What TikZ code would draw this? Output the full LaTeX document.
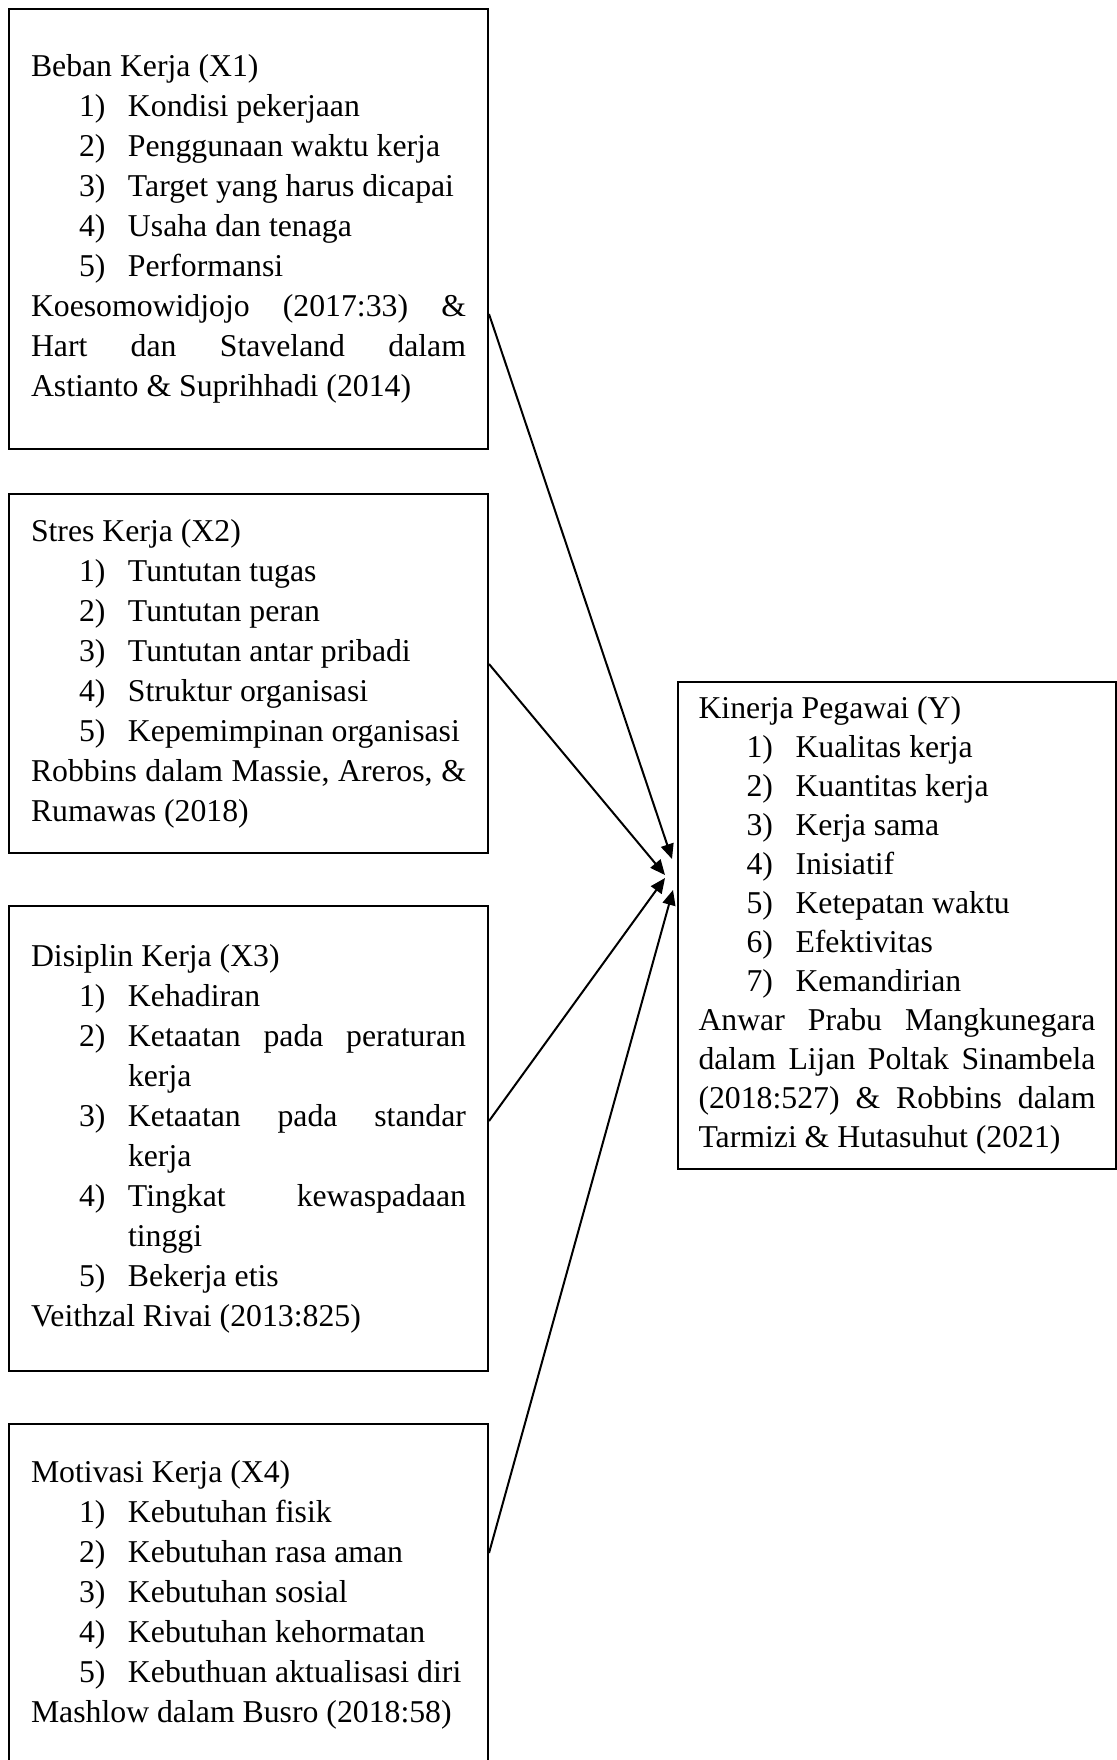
\documentclass[tikz,border=0pt]{standalone}
\usepackage{fontspec}
\setmainfont{Liberation Serif}
\usetikzlibrary{arrows.meta}
\setlength{\parindent}{0pt}
\setlength{\parskip}{0pt}
\hyphenpenalty=10000
\exhyphenpenalty=10000
% numbered indicator line with hanging indent
\newcommand{\itm}[2]{\par\noindent\hangindent=38.8pt\hangafter=1\hspace*{19.2pt}\makebox[19.6pt][l]{#1)}#2\par}
\tikzset{
  varbox/.style={draw, line width=0.8pt, anchor=north west, minimum width=191.6pt,
                 text width=174pt, align=justify, inner xsep=0pt, inner ysep=0pt,
                 font=\fontsize{12.7pt}{16pt}\selectfont},
  ybox/.style={varbox, minimum width=175.2pt, text width=158.8pt,
               font=\fontsize{12.7pt}{15.6pt}\selectfont},
  infl/.style={-{Triangle[length=6pt,width=5.2pt]}, line width=0.8pt}
}

\begin{document}
\begin{tikzpicture}[x=0.4pt, y=-0.4pt]
\useasboundingbox (0,0) rectangle (1117,1760);
\clip (0,0) rectangle (1117,1760);
% independent variables
\node[varbox, minimum height=176pt] (bk) at (8,8) {Beban Kerja (X1)
  \itm{1}{Kondisi pekerjaan}
  \itm{2}{Penggunaan waktu kerja}
  \itm{3}{Target yang harus dicapai}
  \itm{4}{Usaha dan tenaga}
  \itm{5}{Performansi}
  Koesomowidjojo (2017:33) \&\linebreak Hart dan Staveland dalam\linebreak Astianto \& Suprihhadi (2014)};
\node[varbox, minimum height=143.6pt] (sk) at (8,493) {Stres Kerja (X2)
  \itm{1}{Tuntutan tugas}
  \itm{2}{Tuntutan peran}
  \itm{3}{Tuntutan antar pribadi}
  \itm{4}{Struktur organisasi}
  \itm{5}{Kepemimpinan organisasi}
  Robbins dalam Massie, Areros, \&\linebreak Rumawas (2018)};
\node[varbox, minimum height=186pt] (dk) at (8,905) {Disiplin Kerja (X3)
  \itm{1}{Kehadiran}
  \itm{2}{Ketaatan pada peraturan\linebreak kerja}
  \itm{3}{Ketaatan pada standar\linebreak kerja}
  \itm{4}{Tingkat kewaspadaan\linebreak tinggi}
  \itm{5}{Bekerja etis}
  Veithzal Rivai (2013:825)};
\node[varbox, minimum height=136.8pt] (mk) at (8,1423) {Motivasi Kerja (X4)
  \itm{1}{Kebutuhan fisik}
  \itm{2}{Kebutuhan rasa aman}
  \itm{3}{Kebutuhan sosial}
  \itm{4}{Kebutuhan kehormatan}
  \itm{5}{Kebuthuan aktualisasi diri}
  Mashlow dalam Busro (2018:58)};
% dependent variable
\node[ybox, minimum height=194.8pt] (kp) at (677,681) {Kinerja Pegawai (Y)
  \itm{1}{Kualitas kerja}
  \itm{2}{Kuantitas kerja}
  \itm{3}{Kerja sama}
  \itm{4}{Inisiatif}
  \itm{5}{Ketepatan waktu}
  \itm{6}{Efektivitas}
  \itm{7}{Kemandirian}
  Anwar Prabu Mangkunegara\linebreak dalam Lijan Poltak Sinambela\linebreak (2018:527) \& Robbins dalam\linebreak Tarmizi \& Hutasuhut (2021)};
\coordinate (t1) at (672,859);
\coordinate (t2) at (665,875);
\coordinate (t3) at (665,878);
\coordinate (t4) at (673,890);
\draw[infl] ([yshift=-34pt]bk.east) -- (t1);
\draw[infl] ([yshift=3.8pt]sk.east) -- (t2);
\draw[infl] ([yshift=7pt]dk.east) -- (t3);
\draw[infl] ([yshift=16.8pt]mk.east) -- (t4);
\end{tikzpicture}
\end{document}
